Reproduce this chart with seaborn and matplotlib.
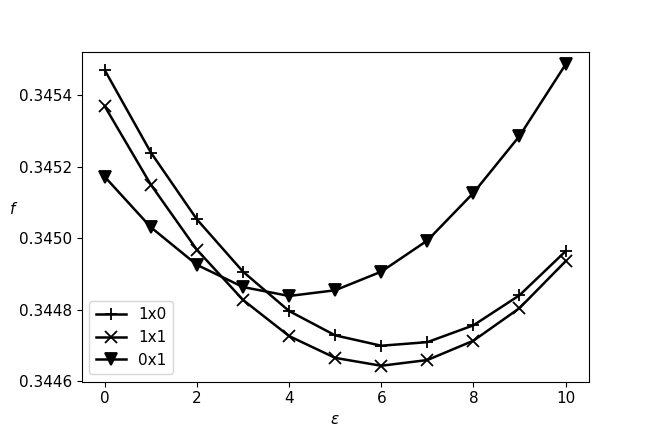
import matplotlib
matplotlib.use("Agg")
import matplotlib.pyplot as plt
import pandas as pd
import seaborn as sns

eps = [0, 1, 2, 3, 4, 5, 6, 7, 8, 9, 10]
f_1x0 = [0.345470, 0.345240, 0.345053, 0.344907, 0.344797, 0.344729,
         0.344700, 0.344710, 0.344757, 0.344841, 0.344964]
f_1x1 = [0.345369, 0.345150, 0.344968, 0.344828, 0.344727, 0.344666,
         0.344644, 0.344660, 0.344714, 0.344805, 0.344936]
f_0x1 = [0.345172, 0.345031, 0.344926, 0.344864, 0.344839, 0.344855,
         0.344907, 0.344994, 0.345127, 0.345286, 0.345486]

series = {"1x0": (f_1x0, "+"), "1x1": (f_1x1, "x"), "0x1": (f_0x1, "v")}

plt.rcParams["font.size"] = 11

fig, ax = plt.subplots(figsize=(6.54, 4.36), dpi=100)
fig.subplots_adjust(left=0.125, right=0.9, top=0.88, bottom=0.125)

for name, (vals, mk) in series.items():
    df = pd.DataFrame({"eps": eps, "f": vals})
    sns.lineplot(data=df, x="eps", y="f", ax=ax, color="k", marker=mk,
                 markersize=8, markeredgecolor="k", markeredgewidth=1.3,
                 linewidth=1.8, label=name)

ax.set_xlabel(r"$\varepsilon$")
ax.set_ylabel(r"$f$", rotation=0)
ax.set_xticks([0, 2, 4, 6, 8, 10])
ax.set_yticks([0.3446, 0.3448, 0.3450, 0.3452, 0.3454])
ax.set_ylim(0.3446, 0.34552)
ax.ticklabel_format(axis="y", useOffset=False)
ax.legend(loc="lower left")

fig.savefig("out.png", dpi=100)
